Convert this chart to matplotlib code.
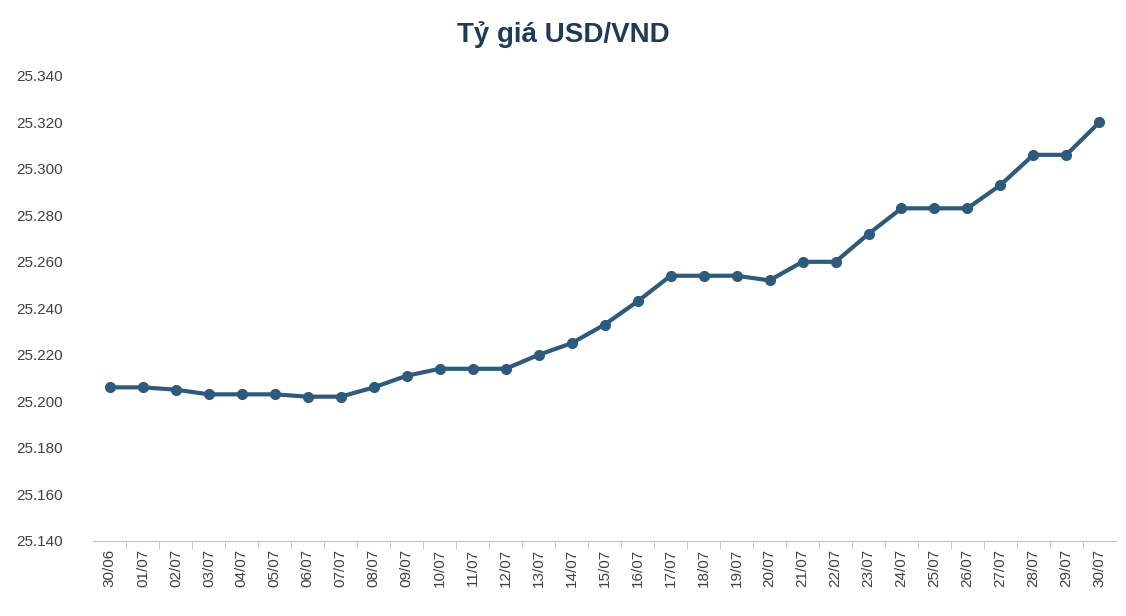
import matplotlib.pyplot as plt
from matplotlib.ticker import FuncFormatter, MultipleLocator

dates = ["30/06"] + [f"{d:02d}/07" for d in range(1, 31)]
rates = [25206, 25206, 25205, 25203, 25203, 25203, 25202, 25202, 25206, 25211,
         25214, 25214, 25214, 25220, 25225, 25233, 25243, 25254, 25254, 25254,
         25252, 25260, 25260, 25272, 25283, 25283, 25283, 25293, 25306, 25306,
         25320]

plt.rcParams['font.family'] = ['Liberation Sans', 'DejaVu Sans']
fig = plt.figure(figsize=(11.26, 6.16), dpi=100)
ax = fig.add_axes([0.083, 0.122, 0.908, 0.755])

x = list(range(len(dates)))
ax.plot(x, rates, color='#2E5A7C', lw=3, marker='o', ms=7)

ax.set_xlim(-0.5, len(dates) - 0.5)
ax.set_ylim(25140, 25340)
ax.yaxis.set_major_locator(MultipleLocator(20))
ax.yaxis.set_major_formatter(FuncFormatter(lambda v, p: f"{v:,.0f}".replace(",", ".")))
ax.set_xticks(x)
ax.set_xticklabels(dates, rotation=90, fontsize=11, color='#404040')
ax.set_xticks([i + 0.5 for i in x[:-1]], minor=True)
ax.tick_params(axis='x', which='major', length=0, pad=6)
ax.tick_params(axis='x', which='minor', length=6, color='#BFBFBF')
ax.tick_params(axis='y', length=0, labelsize=11, labelcolor='#404040', pad=22)
for s in ['top', 'right', 'left']:
    ax.spines[s].set_visible(False)
ax.spines['bottom'].set_color('#BFBFBF')

fig.suptitle("Tỷ giá USD/VND", y=0.965, fontsize=20, fontweight='bold', color='#1F3B57')
fig.savefig("out.png", dpi=100)
